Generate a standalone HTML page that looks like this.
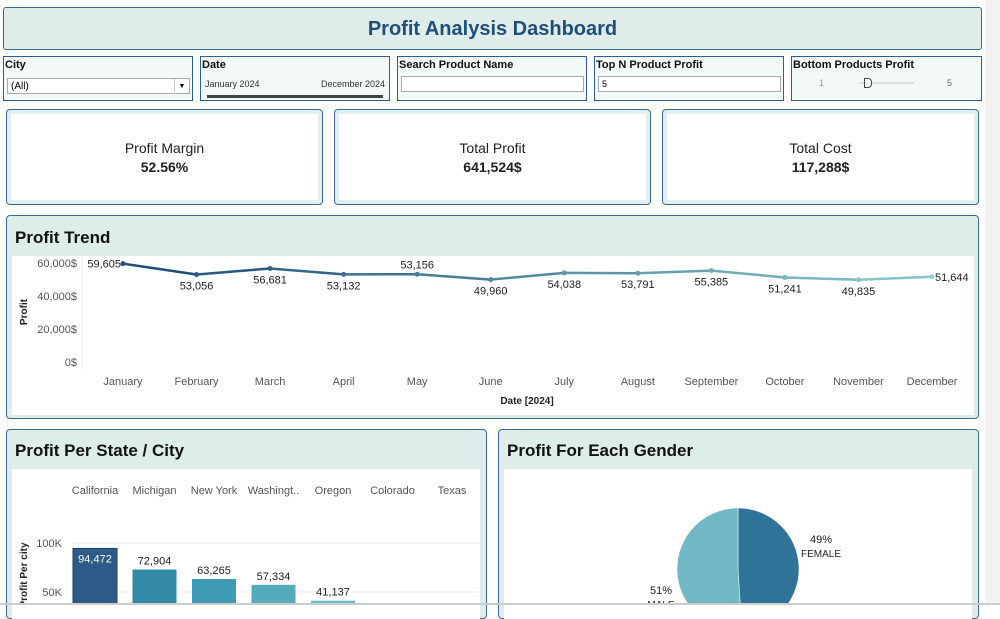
<!DOCTYPE html>
<html><head><meta charset="utf-8"><style>
body{margin:0;width:1000px;height:605px;overflow:hidden;background:#fff;font-family:"Liberation Sans",sans-serif;position:relative}
.abs{position:absolute;box-sizing:border-box}
.title{left:3px;top:7px;width:979px;height:43px;background:#deecea;border:1px solid #3a6a98;border-radius:3px;text-align:center;font:bold 20px "Liberation Sans",sans-serif;color:#1f4e79;line-height:42px}
.filt{top:56px;height:45px;background:#f3f8f8;border:1px solid #2b5e93;font-size:11px}
.filt b{position:absolute;left:1px;top:2px;font-size:11px;color:#111}
.inp{position:absolute;background:#fff;border:1px solid #aaa;height:16px;font-size:9px;line-height:15px;padding-left:3px;box-sizing:border-box}
.kpi{top:109px;height:96px;border:1px solid #3a6a98;border-radius:4px;background:#e3eeee;padding:4px}
.kpi div{background:#fff;height:100%;text-align:center;font-size:14px;color:#222;padding-top:25px;box-sizing:border-box;line-height:19px}
.panel{background:#deecea;border:1px solid #3a6a98;border-radius:4px}
.ph{position:absolute;left:8px;font:bold 17px "Liberation Sans",sans-serif;color:#111}
</style></head><body>
<div class="abs" style="left:985px;top:0;width:15px;height:605px;background:#f2f2f2"></div>
<div class="abs title">Profit Analysis Dashboard</div>

<div class="abs filt" style="left:3px;width:190px"><b>City</b>
<div class="inp" style="left:3px;top:21px;width:183px;font-size:10px">(All)<span style="position:absolute;right:0;top:0;width:14px;border-left:1px solid #ccc;text-align:center;font-size:7px">▼</span></div></div>
<div class="abs filt" style="left:200px;width:190px"><b>Date</b>
<span style="position:absolute;left:4px;top:22px;font-size:9px;color:#333">January 2024</span><span style="position:absolute;right:4px;top:22px;font-size:9px;color:#333">December 2024</span>
<div style="position:absolute;left:6px;right:6px;top:38px;height:3px;background:#444"></div></div>
<div class="abs filt" style="left:397px;width:190px"><b>Search Product Name</b>
<div class="inp" style="left:3px;top:19px;width:183px"></div></div>
<div class="abs filt" style="left:594px;width:190px"><b>Top N Product Profit</b>
<div class="inp" style="left:3px;top:19px;width:183px">5</div></div>
<div class="abs filt" style="left:791px;width:191px"><b>Bottom Products Profit</b>
<span style="position:absolute;left:27px;top:21px;font-size:9px;color:#999">1</span><span style="position:absolute;left:155px;top:21px;font-size:9px;color:#666">5</span>
<div style="position:absolute;left:68px;top:25px;width:54px;height:2px;background:#ddd"></div>
<div style="position:absolute;left:72px;top:21px;width:6px;height:8px;border:1px solid #444;border-radius:0 4px 4px 0;background:#fff"></div></div>

<div class="abs kpi" style="left:6px;width:317px"><div>Profit Margin<br><b>52.56%</b></div></div>
<div class="abs kpi" style="left:334px;width:317px"><div>Total Profit<br><b>641,524$</b></div></div>
<div class="abs kpi" style="left:662px;width:317px"><div>Total Cost<br><b>117,288$</b></div></div>

<div class="abs panel" style="left:6px;top:215px;width:973px;height:204px">
<div class="ph" style="top:12px">Profit Trend</div>
<div style="position:absolute;left:5px;top:40px;width:962px;height:159px;background:#fff"></div></div>
<svg class="abs" style="left:0;top:0" width="1000" height="605" id="trend"></svg>

<div class="abs panel" style="left:6px;top:429px;width:481px;height:190px">
<div class="ph" style="top:11px">Profit Per State / City</div>
<div style="position:absolute;left:5px;top:39px;width:468px;height:150px;background:#fff"></div></div>
<div class="abs panel" style="left:498px;top:429px;width:481px;height:190px">
<div class="ph" style="top:11px">Profit For Each Gender</div>
<div style="position:absolute;left:5px;top:39px;width:468px;height:150px;background:#fff"></div></div>
<svg class="abs" style="left:0;top:0" width="1000" height="605" id="bars"></svg>
<div class="abs" style="left:0;top:603px;width:1000px;height:2px;background:#ccc"></div>

<script>
const months=["January","February","March","April","May","June","July","August","September","October","November","December"];
const profits=[59605,53056,56681,53132,53156,49960,54038,53791,55385,51241,49835,51644];
const labelAbove=[false,false,false,false,true,false,false,false,false,false,false,false];
const yTicks=[0,20000,40000,60000];
const yTickLabels=["0$","20,000$","40,000$","60,000$"];
const states=["California","Michigan","New York","Washingt..","Oregon","Colorado","Texas"];
const stateProfit=[94472,72904,63265,57334,41137,0,0];
const barTicks=[50000,100000];
const barTickLabels=["50K","100K"];
const genders=["FEMALE","MALE"];
const genderShare=[49,51];

const NS="http://www.w3.org/2000/svg";
function mk(svg,tag,attrs,text){const e=document.createElementNS(NS,tag);for(const k in attrs)e.setAttribute(k,attrs[k]);if(text!==undefined)e.textContent=text;svg.appendChild(e);return e;}
const T=document.getElementById('trend');
const xT=i=>123+i*(932-123)/(months.length-1);
const yT=v=>362-v*99/60000;
mk(T,'line',{x1:82,y1:258,x2:82,y2:370,stroke:'#eee'});
yTicks.forEach((t,i)=>{const e=mk(T,'text',{x:77,y:yT(t)+4,'text-anchor':'end','font-size':11,fill:'#555'},yTickLabels[i]);

});
const ya=mk(T,'text',{x:27,y:312,'font-size':10,'font-weight':'bold',fill:'#222',transform:'rotate(-90 27 312)','text-anchor':'middle'},'Profit');


const xa=mk(T,'text',{x:527,y:404,'font-size':10,'font-weight':'bold',fill:'#222','text-anchor':'middle'},'Date [2024]');


function col(i,n){const a=[31,78,121],b=[143,208,208];const t=i/(n-1);return 'rgb('+a.map((c,k)=>Math.round(c+(b[k]-c)*t)).join(',')+')';}
for(let i=0;i<profits.length-1;i++){const l=mk(T,'line',{x1:xT(i),y1:yT(profits[i]),x2:xT(i+1),y2:yT(profits[i+1]),stroke:col(i,profits.length),'stroke-width':2.5});

}
profits.forEach((v,i)=>{const c=mk(T,'circle',{cx:xT(i),cy:yT(v),r:2.5,fill:col(i,profits.length)});


const lx=i===0?xT(i)-2:(i===11?xT(i)+3:xT(i));const anc=i===0?'end':(i===11?'start':'middle');
const ly=(i===0||i===11)?yT(v)+4:(labelAbove[i]?yT(v)-6:yT(v)+15);
const t=mk(T,'text',{x:lx,y:ly,'text-anchor':anc,'font-size':11,fill:'#222'},v.toLocaleString('en-US'));


const m=mk(T,'text',{x:xT(i),y:385,'text-anchor':'middle','font-size':11,fill:'#555'},months[i]);

});

const B=document.getElementById('bars');
const xB=i=>95+i*59.5;
const yB=v=>641-v*0.98/1000;
barTicks.forEach((t,i)=>{mk(B,'line',{x1:72,y1:yB(t),x2:481,y2:yB(t),stroke:'#eee'});
const e=mk(B,'text',{x:62,y:yB(t)+4,'text-anchor':'end','font-size':11,fill:'#555'},barTickLabels[i]);

});
const bt=mk(B,'text',{x:27,y:575,'font-size':10,'font-weight':'bold',fill:'#222',transform:'rotate(-90 27 575)','text-anchor':'middle'},'Profit Per city');


const bcols=['#2d5a87','#3289a6','#3f9ab3','#55aabc','#6cbac6','#80c4cc','#90ccd2'];
states.forEach((s,i)=>{const h=mk(B,'text',{x:xB(i),y:494,'text-anchor':'middle','font-size':11,fill:'#555'},s);


const v=stateProfit[i];if(!v)return;
const r=mk(B,'rect',{x:xB(i)-22,y:yB(v),width:44,height:641-yB(v),fill:bcols[i],stroke:i===0?'#1f3f66':'none'});


const inside=i===0;
const t=mk(B,'text',{x:xB(i),y:inside?yB(v)+14:yB(v)-5,'text-anchor':'middle','font-size':11,fill:inside?'#fff':'#222'},v.toLocaleString('en-US'));

});

const cx=738,cy=569,R=61;const pcols=['#2f7398','#72b8c4'];let a0=0;
genderShare.forEach((p,i)=>{const a1=a0+p/100*2*Math.PI;
const x0=cx+R*Math.sin(a0),y0=cy-R*Math.cos(a0),x1=cx+R*Math.sin(a1),y1=cy-R*Math.cos(a1);
const s=mk(B,'path',{d:`M${cx},${cy}L${x0},${y0}A${R},${R} 0 ${a1-a0>Math.PI?1:0} 1 ${x1},${y1}Z`,fill:pcols[i],stroke:'#fff','stroke-width':0.5});


const lx=i===0?821:661,ly=i===0?543:594;
const t1=mk(B,'text',{x:lx,y:ly,'text-anchor':'middle','font-size':11,fill:'#222'},p+'%');


const t2=mk(B,'text',{x:lx,y:ly+14,'text-anchor':'middle','font-size':10,fill:'#222'},genders[i]);


a0=a1;});
</script>
</body></html>
